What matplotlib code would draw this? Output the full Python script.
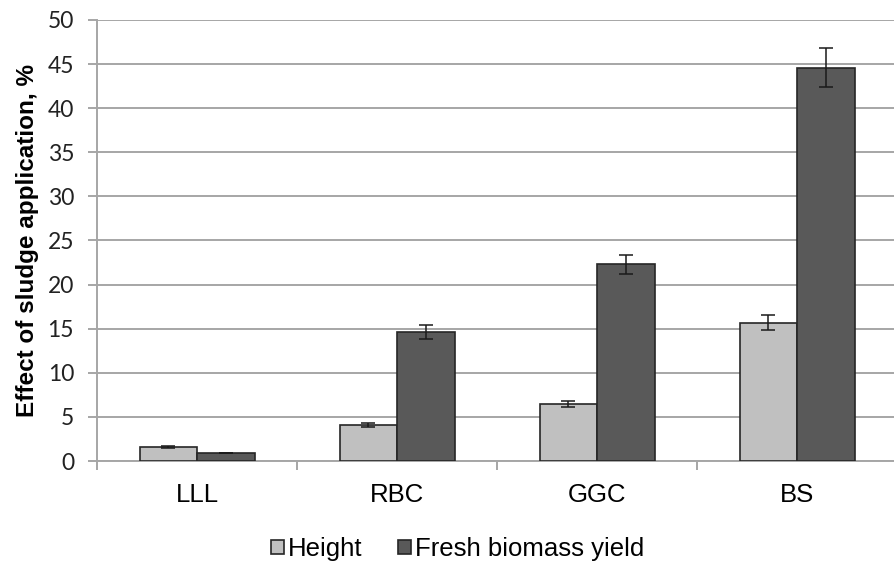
import numpy as np
import matplotlib.pyplot as plt

# data
sites = ['LLL', 'RBC', 'GGC', 'BS']
height = [1.6, 4.05, 6.45, 15.7]
height_err = [0.07, 0.25, 0.3, 0.85]
biomass = [0.95, 14.6, 22.3, 44.6]
biomass_err = [0.0, 0.8, 1.1, 2.2]

fig = plt.figure(figsize=(8.94, 5.69), dpi=100)
ax = fig.add_axes([0.1085, 0.1898, 0.8949, 0.7751])

x = np.arange(len(sites))
w = 0.2875
err_kw = dict(ecolor='#1a1a1a', elinewidth=1.1, capsize=4.7, capthick=1.1)
ax.bar(x - w / 2, height, w, yerr=height_err, color='#c0c0c0',
       edgecolor='#262626', linewidth=1.2, error_kw=err_kw, label='Height', zorder=3)
ax.bar(x + w / 2, biomass, w, yerr=biomass_err, color='#595959',
       edgecolor='#262626', linewidth=1.2, error_kw=err_kw,
       label='Fresh biomass yield', zorder=3)

ax.set_xlim(-0.5, len(sites) - 0.5)
ax.set_ylim(0, 50)
ax.set_yticks(np.arange(0, 51, 5))
ax.yaxis.grid(True, color='#a6a6a6', linewidth=1.4, zorder=0)
ax.set_axisbelow(True)

for s in ['top', 'right']:
    ax.spines[s].set_visible(False)
for s in ['left', 'bottom']:
    ax.spines[s].set_color('#a6a6a6')
    ax.spines[s].set_linewidth(1.4)

ax.set_xticks(x)
ax.set_xticklabels(sites, fontfamily='Liberation Sans', fontsize=18.5)
ax.set_xticks(np.arange(-0.5, len(sites)), minor=True)
ax.tick_params(axis='x', which='major', length=0, pad=16)
ax.tick_params(axis='x', which='minor', length=6.5, width=1.4, color='#a6a6a6')
ax.tick_params(axis='y', length=6.5, width=1.4, color='#a6a6a6', pad=10)
for lab in ax.get_yticklabels():
    lab.set_fontfamily('Lato')
    lab.set_fontsize(16.5)
    lab.set_color('#222222')

ax.set_ylabel('Effect of sludge application, %', fontfamily='Liberation Sans',
              fontweight='bold', fontsize=17.5, labelpad=6)

fig.legend(loc='center', bbox_to_anchor=(0.512, 0.035), ncol=2, frameon=False,
           prop={'family': 'Liberation Sans', 'size': 18.5}, handlelength=0.5,
           handleheight=0.5, handletextpad=0.15, columnspacing=1.4)

plt.savefig('out.png', dpi=100)
